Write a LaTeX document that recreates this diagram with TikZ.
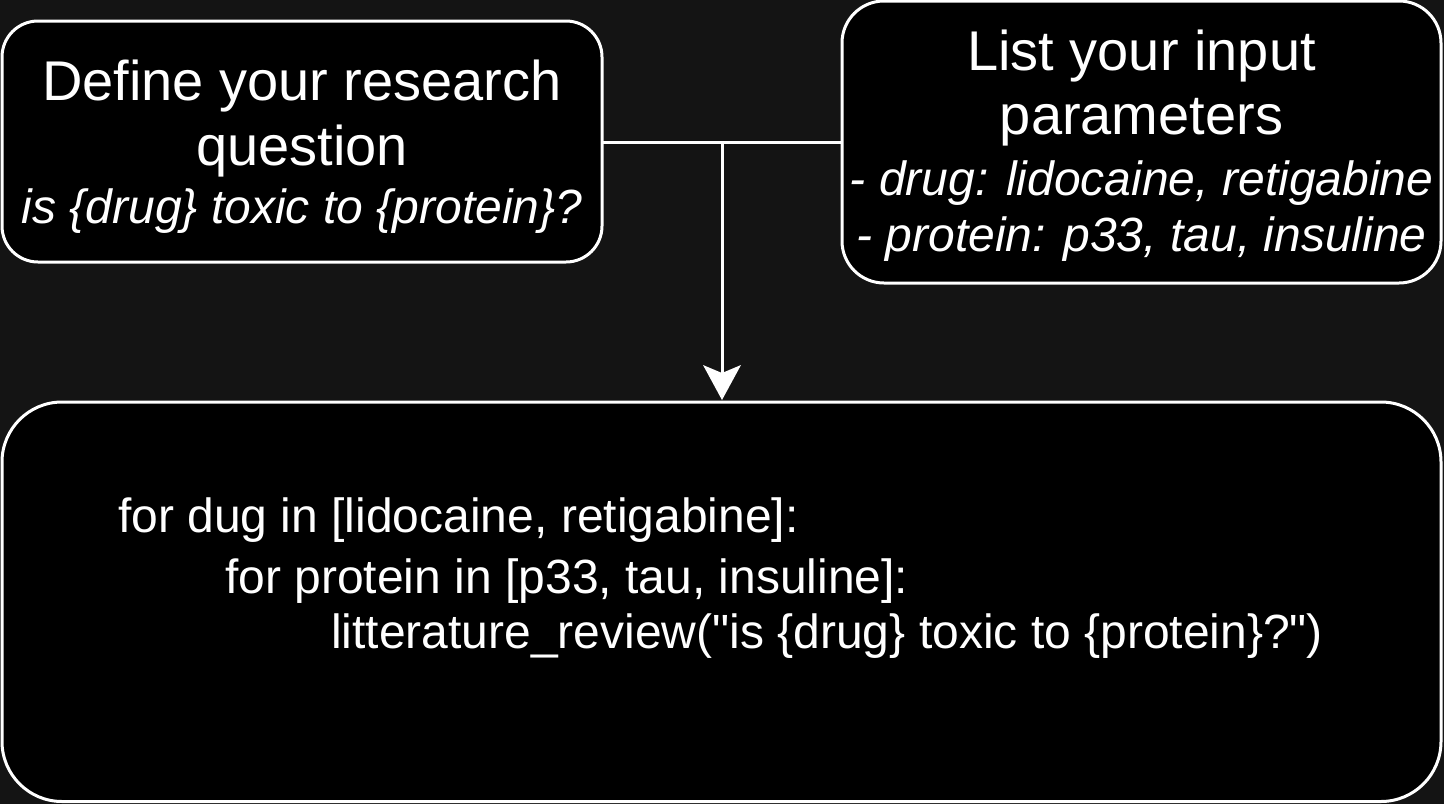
\documentclass[tikz,border=0pt]{standalone}
\usepackage{fontspec}
\setmainfont{Liberation Sans}[Ligatures=TeXOff]
\usetikzlibrary{arrows.meta}
\definecolor{bgcol}{HTML}{141414}
\tikzset{
  box/.style={draw=white, fill=black, line width=3pt, inner sep=0pt, outer sep=0pt},
  conn/.style={draw=white, line width=3pt},
  titletext/.style={text=white, inner sep=0pt, anchor=base, font=\fontsize{56}{67}\selectfont},
  subtext/.style={text=white, inner sep=0pt, anchor=base, font=\fontsize{48}{58}\selectfont\itshape},
  codetext/.style={text=white, inner sep=0pt, anchor=base west, font=\fontsize{48}{58}\selectfont},
}
\begin{document}
\begin{tikzpicture}[x=1pt, y=-1pt]
\useasboundingbox (0,0) rectangle (1444,804);
\fill[bgcol] (0,0) rectangle (1444,804);

% boxes
\node[box, minimum width=600, minimum height=241, rounded corners=36] (q) at (302,141.5) {};
\node[box, minimum width=599, minimum height=282, rounded corners=42] (p) at (1141.5,142) {};
\node[box, minimum width=1439, minimum height=399.5, rounded corners=60] (code) at (721.5,601.75) {};

% connectors
\coordinate (j) at (722,142);
\draw[conn] (q.east |- j) -- (p.west |- j);
\draw[conn, -{Stealth[length=35pt, width=38pt, inset=8pt, line width=0pt]}, shorten >=2pt] (j) -- (j |- code.north);

% texts of the question box
\node[titletext] (q1) at (302,100) {Define your research};
\node[titletext] (q2) at (302,165) {question};
\node[subtext] (q3) at (302,223) {is \{drug\} toxic to \{protein\}?};

% texts of the parameters box
\node[titletext] (p1) at (1141.5,70) {List your input};
\node[titletext] (p2) at (1141.5,134) {parameters};
\node[subtext] (p3) at (1141.5,195) {- drug: lidocaine, retigabine};
\node[subtext] (p4) at (1141.5,251) {- protein: p33, tau, insuline};

% code lines
\node[codetext] (c1) at (118,532) {for dug in [lidocaine, retigabine]:};
\node[codetext] (c2) at (225,593) {for protein in [p33, tau, insuline]:};
\node[codetext] (c3) at (331,648) {litterature\_review("is \{drug\} toxic to \{protein\}?")};
\end{tikzpicture}
\end{document}
